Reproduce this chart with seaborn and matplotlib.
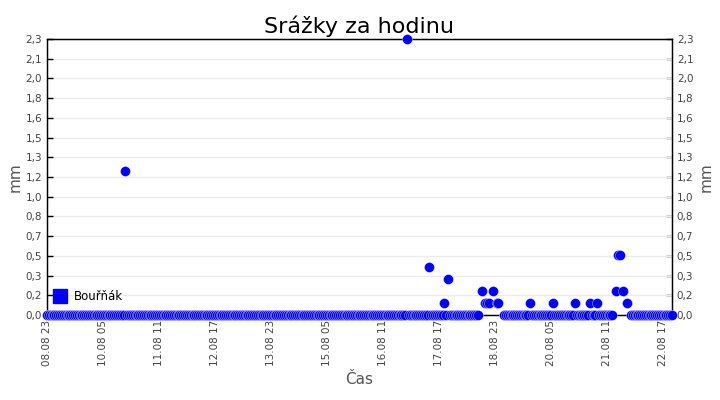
import numpy as np
import pandas as pd
import seaborn as sns
import matplotlib
matplotlib.use("Agg")
import matplotlib.pyplot as plt
from matplotlib.lines import Line2D

# hourly series start / length
start = "2023-08-08 23:00"
n_hours = 336

# hours (offset from start) with rain, and the measured amount in mm
rain_hours = [42, 193, 205, 213, 215, 233, 235, 236, 237, 239, 241, 242,
              259, 271, 283, 291, 295, 305, 306, 307, 309, 311]
rain_mm = [1.2, 2.3, 0.4, 0.1, 0.3, 0.2, 0.1, 0.1, 0.1, 0.2, 0.1, 0.1,
           0.1, 0.1, 0.1, 0.1, 0.1, 0.2, 0.5, 0.5, 0.2, 0.1]
# hours with no record
missing_hours = [232, 234, 238, 240, 243, 244, 304, 308, 310, 312]

x_tick_labels = ["08.08 23", "10.08 05", "11.08 11", "12.08 17", "13.08 23", "15.08 05",
                 "16.08 11", "17.08 17", "18.08 23", "20.08 05", "21.08 11", "22.08 17"]
y_tick_labels = ["0,0", "0,2", "0,3", "0,5", "0,7", "0,8", "1,0", "1,2",
                 "1,3", "1,5", "1,6", "1,8", "2,0", "2,1", "2,3"]
y_max = 2.3

times = pd.date_range(start, periods=n_hours, freq="h")
values = np.zeros(n_hours)
values[rain_hours] = rain_mm
values[missing_hours] = np.nan
df = pd.DataFrame({"cas": times, "mm": values}).dropna()

sns.set_style("white")
plt.rcParams["font.family"] = ["DejaVu Sans"]

fig, ax = plt.subplots(figsize=(7.2, 4), dpi=100)
fig.subplots_adjust(left=0.0653, right=0.9333, top=0.9025, bottom=0.2125)

sns.scatterplot(data=df, x="cas", y="mm", ax=ax, color="#0000ff", edgecolor="white",
                linewidth=0.25, s=52, legend=False, clip_on=False, zorder=3)

ax.set_xlim(times[0], times[-1])
ax.set_ylim(0, y_max)
y_ticks = np.linspace(0, y_max, len(y_tick_labels))
ax.set_yticks(y_ticks)
ax.set_yticklabels(y_tick_labels)
x_ticks = pd.date_range(start, periods=len(x_tick_labels), freq="30h")
ax.set_xticks(x_ticks)
ax.set_xticklabels(x_tick_labels, rotation=90)

ax.yaxis.grid(True, color="#ebebeb", lw=1)
ax.set_axisbelow(True)
for s in ax.spines.values():
    s.set_color("black")
    s.set_linewidth(1)
ax.tick_params(direction="in", length=4, width=1, color="black",
               labelsize=7.5, labelcolor="#444444")
ax.set_xlabel("Čas", fontsize=11, color="#555555")
ax.set_ylabel("mm", fontsize=11, color="#555555", labelpad=2)
ax.set_title("Srážky za hodinu", fontsize=16, pad=4, color="black")

ax2 = ax.twinx()
ax2.set_ylim(0, y_max)
ax2.set_yticks(y_ticks)
ax2.set_yticklabels(y_tick_labels)
ax2.tick_params(axis="y", direction="in", length=4, width=1, color="black",
                labelsize=7.5, labelcolor="#444444", left=False, right=True)
ax2.set_ylabel("mm", fontsize=11, color="#555555", labelpad=4)
ax2.spines["right"].set_color("black")
ax.tick_params(axis="y", right=False)
ax.set_zorder(ax2.get_zorder() + 1)
ax.patch.set_visible(False)

handle = Line2D([], [], marker="s", color="#0000ff", linestyle="", markersize=9.5)
ax.legend(handles=[handle], labels=["Bouřňák"], loc="lower left", frameon=False,
          fontsize=8.5, bbox_to_anchor=(-0.008, 0.005), handletextpad=0.6,
          handlelength=1.2, labelcolor="black")

fig.savefig("out.png", dpi=100)
